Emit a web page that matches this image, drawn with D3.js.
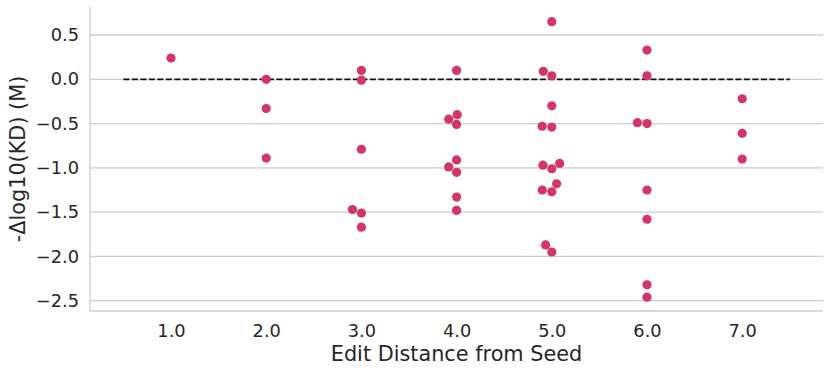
<!DOCTYPE html>
<html>
<head>
<meta charset="utf-8">
<script src="https://cdn.jsdelivr.net/npm/d3@7"></script>
<style>
  html, body { margin: 0; padding: 0; background: #ffffff; }
  svg { display: block; font-family: "DejaVu Sans", sans-serif; }
</style>
</head>
<body>
<svg id="chart" width="831" height="373"></svg>
<script>
// ---- data ----
const editDistances = [1.0, 2.0, 3.0, 4.0, 5.0, 6.0, 7.0];
const xTickLabels = ["1.0", "2.0", "3.0", "4.0", "5.0", "6.0", "7.0"];
const yTickValues = [0.5, 0.0, -0.5, -1.0, -1.5, -2.0, -2.5];

const pointDistance = [
  1,
  2, 2, 2,
  3, 3, 3, 3, 3, 3,
  4, 4, 4, 4, 4, 4, 4, 4, 4,
  5, 5, 5, 5, 5, 5, 5, 5, 5, 5, 5, 5, 5, 5,
  6, 6, 6, 6, 6, 6, 6, 6,
  7, 7, 7
];
const pointDeltaLogKD = [
  0.24,
  0.00, -0.33, -0.89,
  0.10, -0.01, -0.79, -1.47, -1.51, -1.67,
  0.10, -0.40, -0.45, -0.51, -0.91, -0.99, -1.05, -1.33, -1.48,
  0.65, 0.09, 0.04, -0.30, -0.53, -0.54, -0.95, -0.97, -1.01, -1.18, -1.25, -1.27, -1.87, -1.95,
  0.33, 0.04, -0.49, -0.50, -1.25, -1.58, -2.32, -2.46,
  -0.22, -0.61, -0.90
];
const referenceLevel = 0.0;

const xLabel = "Edit Distance from Seed";
const yLabel = "-\u0394log10(KD) (M)";

// ---- layout ----
const svg = d3.select("#chart");
const plot = { left: 90, right: 823, top: 7, bottom: 311 };
const textColor = "#262626";
const gridColor = "#cccccc";
const dotColor = "#d63462";
const dotR = 4.6;

// band-like positional scale: category index -> px
const xIdx = d3.scaleLinear().domain([-0.851, 6.849]).range([plot.left, plot.right]);
const catIndex = new Map(editDistances.map((d, i) => [d, i]));
const y = d3.scaleLinear().domain([-2.616, 0.816]).range([plot.bottom, plot.top]);

// grid
svg.append("g")
  .selectAll("line")
  .data(yTickValues)
  .join("line")
  .attr("x1", plot.left).attr("x2", plot.right)
  .attr("y1", d => y(d)).attr("y2", d => y(d))
  .attr("stroke", gridColor).attr("stroke-width", 1.3);

// spines (left + bottom)
svg.append("line")
  .attr("x1", plot.left).attr("x2", plot.left)
  .attr("y1", plot.top).attr("y2", plot.bottom)
  .attr("stroke", gridColor).attr("stroke-width", 1.3);
svg.append("line")
  .attr("x1", plot.left).attr("x2", plot.right)
  .attr("y1", plot.bottom).attr("y2", plot.bottom)
  .attr("stroke", gridColor).attr("stroke-width", 1.3);

// y axis tick labels
const yAxis = d3.axisLeft(y)
  .tickValues(yTickValues)
  .tickSize(0)
  .tickPadding(11)
  .tickFormat(d => d3.format(".1f")(d).replace("-", "\u2212"));
const gy = svg.append("g").attr("transform", `translate(${plot.left},0)`).call(yAxis);
gy.select(".domain").remove();
gy.selectAll("text")
  .attr("fill", textColor)
  .style("font-size", "17.8px")
  .style("font-family", "DejaVu Sans, sans-serif");

// x axis tick labels
const xAxis = d3.axisBottom(xIdx)
  .tickValues(editDistances.map((d, i) => i))
  .tickSize(0)
  .tickPadding(0)
  .tickFormat((d, i) => xTickLabels[i]);
const gx = svg.append("g").attr("transform", `translate(0,${plot.bottom})`).call(xAxis);
gx.select(".domain").remove();
gx.selectAll("text")
  .attr("fill", textColor)
  .attr("dy", null)
  .attr("y", 25.5)
  .style("font-size", "17.8px")
  .style("font-family", "DejaVu Sans, sans-serif");

// axis labels
svg.append("text")
  .attr("x", (plot.left + plot.right) / 2)
  .attr("y", 361)
  .attr("text-anchor", "middle")
  .attr("fill", textColor)
  .style("font-size", "20.8px")
  .text(xLabel);
svg.append("text")
  .attr("transform", `translate(25,${(plot.top + plot.bottom) / 2}) rotate(-90)`)
  .attr("text-anchor", "middle")
  .attr("fill", textColor)
  .style("font-size", "20.8px")
  .text(yLabel);

// reference dashed line from first-0.5 to last+0.5 category
svg.append("line")
  .attr("x1", xIdx(-0.5)).attr("x2", xIdx(editDistances.length - 0.5))
  .attr("y1", y(referenceLevel)).attr("y2", y(referenceLevel))
  .attr("stroke", "#111111").attr("stroke-width", 1.7)
  .attr("stroke-dasharray", "6,2.5");

// ---- swarm layout (seaborn-like beeswarm) ----
function beeswarm(points, mid, r) {
  const order = points.map((p, i) => i).sort((a, b) => points[b].py - points[a].py);
  const placed = [];
  const d = 2 * r;
  order.forEach(i => {
    const p = points[i];
    const neighbors = placed.filter(q => Math.abs(q.py - p.py) < d).reverse();
    const cands = [mid];
    let leftFirst = true;
    neighbors.forEach(q => {
      const dy = p.py - q.py;
      const dx = Math.sqrt(Math.max(d * d - dy * dy, 0)) * 1.05;
      if (leftFirst) cands.push(q.px - dx, q.px + dx);
      else cands.push(q.px + dx, q.px - dx);
      leftFirst = !leftFirst;
    });
    const sorted = cands.map((c, k) => [c, k])
      .sort((a, b) => (Math.abs(a[0] - mid) - Math.abs(b[0] - mid)) || (a[1] - b[1]));
    let chosen = sorted[sorted.length - 1][0];
    for (const [c] of sorted) {
      const ok = neighbors.every(q => Math.hypot(c - q.px, p.py - q.py) >= d - 1e-6);
      if (ok) { chosen = c; break; }
    }
    p.px = chosen;
    placed.push(p);
  });
  return points;
}

const allPoints = [];
editDistances.forEach((dist, ci) => {
  const mid = xIdx(ci);
  const pts = pointDistance
    .map((dd, k) => ({ dist: dd, v: pointDeltaLogKD[k] }))
    .filter(p => p.dist === dist)
    .map(p => ({ ...p, py: y(p.v), px: mid }));
  beeswarm(pts, mid, dotR);
  allPoints.push(...pts);
});

svg.append("g")
  .selectAll("circle")
  .data(allPoints)
  .join("circle")
  .attr("cx", d => d.px)
  .attr("cy", d => d.py)
  .attr("r", dotR)
  .attr("fill", dotColor);
</script>
</body>
</html>
